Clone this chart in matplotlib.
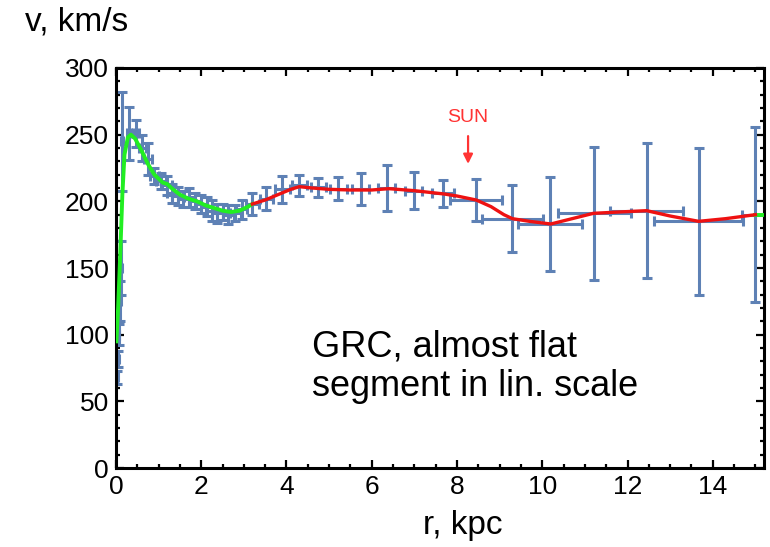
import numpy as np
import matplotlib
matplotlib.use("Agg")
import matplotlib.pyplot as plt
from matplotlib.ticker import MultipleLocator

plt.rcParams['font.family'] = ['Liberation Sans', 'DejaVu Sans']

# ------------------------------------------------------------
#  observed points: r [kpc], v [km/s], errors
# ------------------------------------------------------------
r_obs = [0.03, 0.05, 0.07, 0.09, 0.11, 0.14, 0.31, 0.47, 0.62, 0.75,
         0.9, 1.05, 1.2, 1.32, 1.45, 1.58, 1.72, 1.86, 2.0, 2.13,
         2.25, 2.38, 2.5, 2.63, 2.8, 2.95,
         3.2, 3.53, 3.9, 4.3, 4.75, 5.22, 5.74, 6.35, 6.99, 7.67,
         8.45, 9.3, 10.19, 11.22, 12.45, 13.67, 14.99]
v_obs = [68, 82, 100, 125, 150, 245, 251, 251, 240, 232,
         219, 215, 212, 206, 204, 202, 203, 200, 198, 196,
         193, 191, 192, 190, 191, 194,
         198, 202, 209, 212, 210.5, 209.5, 209, 210, 208, 206,
         201, 187, 183, 191, 193, 185, 190]
dv_obs = [5, 6, 8, 15, 20, 37, 20, 10, 10, 12,
          6, 6, 7, 7, 7, 6, 7, 6, 7, 7,
          8, 7, 6, 7, 6, 7,
          8, 8.5, 10, 8, 7, 8.5, 12, 17, 14, 10,
          16, 25, 35.5, 50, 50.5, 55, 65.5]
dr_obs = [0.01, 0.01, 0.01, 0.02, 0.02, 0.03, 0.05, 0.07, 0.08, 0.1,
          0.1, 0.12, 0.12, 0.13, 0.13, 0.13, 0.13, 0.13, 0.13, 0.13,
          0.13, 0.13, 0.13, 0.13, 0.13, 0.13,
          0.15, 0.15, 0.18, 0.18, 0.18, 0.2, 0.2, 0.2, 0.2, 0.25,
          0.61, 0.72, 0.75, 0.86, 0.86, 1.05, 0.3]

# model curves
green_r = [0.01, 0.05, 0.1, 0.15, 0.2, 0.28, 0.35, 0.45, 0.6, 0.75,
           0.9, 1.0, 1.1, 1.2, 1.3, 1.5, 1.7, 1.9, 2.1, 2.3,
           2.5, 2.7, 2.9, 3.1, 3.2]
green_v = [95, 120, 160, 205, 235, 248, 250, 247, 238, 228,
           220, 217, 214, 213, 210, 205, 202, 200, 197, 195,
           193, 192, 193, 196, 198]
green_tail_r = [14.99, 15.3]
green_tail_v = [190, 190]

red_r = [3.2, 3.5, 3.8, 4.1, 4.3, 4.6, 5.0, 5.5, 6.0, 6.4, 7.0, 7.7,
         8.0, 8.45, 8.8, 9.1, 9.3, 9.7, 10.2, 10.7, 11.2, 11.8, 12.45,
         13.0, 13.67, 14.3, 15.0]
red_v = [198, 201, 205, 209, 211, 210, 209, 208.5, 208.5, 209.5, 208, 205.5,
         204, 201, 196, 190, 187, 185, 183, 187, 191, 192, 193,
         189, 185, 187, 190]

sun_r = 8.26

# ------------------------------------------------------------
fig = plt.figure(figsize=(7.7, 5.47), dpi=100)
ax = fig.add_axes([0.1506, 0.1444, 0.8415, 0.7313])

ax.errorbar(r_obs, v_obs, yerr=dv_obs, xerr=dr_obs, fmt='none',
            ecolor='#5E81B5', elinewidth=2.2, capsize=3.5, capthick=2.2,
            zorder=2)

ax.plot(green_r, green_v, color='#22ee22', lw=2.8, zorder=3)
ax.plot(green_tail_r, green_tail_v, color='#22ee22', lw=2.8, zorder=3)
ax.plot(red_r, red_v, color='#ee1111', lw=2.4, zorder=4)

ax.annotate('', xy=(sun_r, 226), xytext=(sun_r, 251),
            arrowprops=dict(arrowstyle='-|>', color='#ff3333', lw=1.6,
                            mutation_scale=14))
ax.text(sun_r, 263, 'SUN', color='#ff3333', fontsize=14,
        ha='center', va='center')

ax.text(4.6, 76, 'GRC, almost flat\nsegment in lin. scale', fontsize=26,
        ha='left', va='center', linespacing=1.15)

ax.set_xlim(0, 15.2)
ax.set_ylim(0, 300)
ax.xaxis.set_major_locator(MultipleLocator(2))
ax.xaxis.set_minor_locator(MultipleLocator(0.5))
ax.yaxis.set_major_locator(MultipleLocator(50))
ax.yaxis.set_minor_locator(MultipleLocator(10))

ax.tick_params(which='both', direction='in', top=True, right=True,
               labelsize=19, width=1.6)
ax.tick_params(which='major', length=6, pad=5)
ax.tick_params(which='minor', length=3)
for s in ax.spines.values():
    s.set_linewidth(2.2)

fig.text(0.032, 0.96, 'v, km/s', fontsize=24, ha='left', va='center')
fig.text(0.601, 0.04, 'r, kpc', fontsize=24, ha='center', va='center')

fig.savefig('out.png', dpi=100)
